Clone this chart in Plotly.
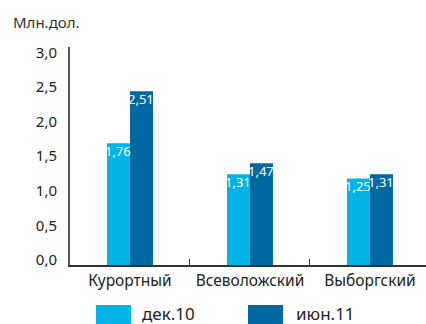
import plotly.graph_objects as go

categories = ["Курортный", "Всеволожский", "Выборгский"]
series_names = ["дек.10", "июн.11"]
dec10 = [1.76, 1.31, 1.25]
jun11 = [2.51, 1.47, 1.31]
colors = ["#00b4e8", "#0069a2"]
y_ticks = [0, 0.5, 1.0, 1.5, 2.0, 2.5, 3.0]

FONT = "Noto Sans"

fig = go.Figure()
for name, vals, col in zip(series_names, [dec10, jun11], colors):
    fig.add_trace(go.Bar(
        x=categories, y=vals, name=name, marker=dict(color=col, line=dict(width=0)),
        showlegend=False, hoverinfo="x+y",
    ))

W, H = 426, 324
L, R, T, B = 70, 0, 47, 59
pw, ph = W - L - R, H - T - B

def px(x):
    return (x - L) / pw

def py(y):
    return (H - B - y) / ph

shapes = []
annotations = []

# value labels at the top inside each bar
for vals, shift in zip([dec10, jun11], [-11.5, 11.5]):
    for cat, v in zip(categories, vals):
        annotations.append(dict(x=cat, y=v, xref="x", yref="y", xshift=shift, yshift=-8,
                                xanchor="center", yanchor="middle", showarrow=False,
                                text=f"{v:.2f}".replace(".", ","),
                                font=dict(size=13, color="white", family=FONT)))

legend_x = [(96, 131, 140), (248, 283, 294)]
for (x0, x1, tx), name, col in zip(legend_x, series_names, colors):
    shapes.append(dict(type="rect", xref="paper", yref="paper",
                       x0=px(x0), x1=px(x1), y0=py(305), y1=py(326),
                       fillcolor=col, line=dict(width=0)))
    annotations.append(dict(xref="paper", yref="paper", x=px(tx), y=py(313),
                            xanchor="left", yanchor="middle", showarrow=False,
                            text=name, font=dict(size=17, color="#222", family=FONT)))

annotations.append(dict(xref="paper", yref="paper", x=px(11), y=py(22),
                        xanchor="left", yanchor="middle", showarrow=False,
                        text="Млн.дол.", font=dict(size=15, color="#333", family=FONT)))

fig.update_layout(
    width=W, height=H,
    margin=dict(l=L, r=R, t=T, b=B, pad=0),
    paper_bgcolor="white", plot_bgcolor="white",
    barmode="group", bargap=0.6167, bargroupgap=0,
    separators=", ",
    font=dict(family=FONT, size=15, color="#222"),
    shapes=shapes, annotations=annotations,
    xaxis=dict(range=[-0.5, 2.467], showgrid=False, zeroline=False,
               showline=True, linecolor="#333", linewidth=2,
               ticks="inside", ticklen=6, tickcolor="#333", tickwidth=1,
               tickson="boundaries", tickfont=dict(size=15.5, color="#222")),
    yaxis=dict(range=[0, 3.15], showgrid=False, zeroline=False,
               showline=True, linecolor="#555", linewidth=2,
               tickvals=y_ticks, tickformat=".1f", ticks="",
               ticklabelstandoff=8, ticklabelshift=-5,
               tickfont=dict(size=15, color="#222")),
)

fig.write_html("out.html")
